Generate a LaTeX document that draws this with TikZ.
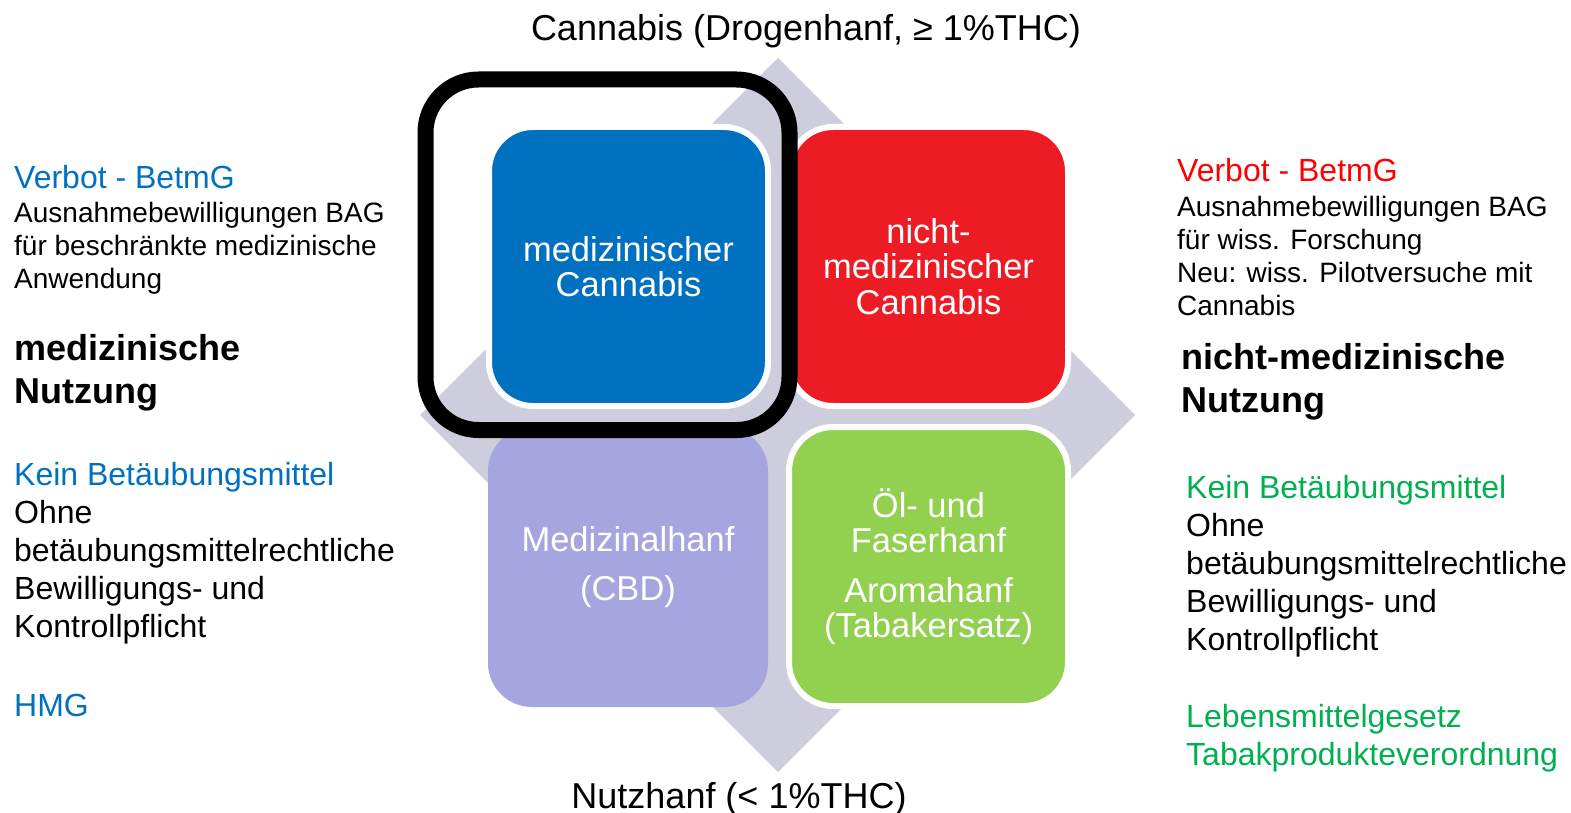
\documentclass[tikz,border=0pt]{standalone}
\usepackage{fontspec}
\setmainfont{Liberation Sans}
\usepackage{tikz}
\usetikzlibrary{positioning}
\definecolor{medblue}{HTML}{0070C0}
\definecolor{recred}{HTML}{ED1C24}
\definecolor{cbdlilac}{HTML}{A5A5DF}
\definecolor{hempgreen}{HTML}{92D050}
\definecolor{diamondgray}{HTML}{CDCDDD}
\definecolor{txtblue}{HTML}{0070C0}
\definecolor{txtred}{HTML}{FF0000}
\definecolor{txtgreen}{HTML}{00B050}

\begin{document}
\begin{tikzpicture}[
    x=1pt, y=-1pt,
    quad/.style={rectangle, rounded corners=44pt, draw=white, line width=6pt, minimum width=279pt, minimum height=279pt, text=white, align=center, inner sep=0pt, font=\fontsize{34.5}{35.5}\selectfont},
    note/.style={anchor=base west, align=left, inner sep=0pt},
    small/.style={note, font=\fontsize{28}{33}\selectfont},
    body/.style={note, font=\fontsize{32}{38}\selectfont},
    usage/.style={note, font=\fontsize{36}{43}\selectfont\bfseries},
    axis/.style={anchor=base, inner sep=0pt, font=\fontsize{36}{43}\selectfont}
]
    \useasboundingbox (0,0) rectangle (1571,813);

    % Diamond behind the four fields
    \coordinate (hub) at (778,415);
    \fill[diamondgray] (778,58) -- (1135,415) -- (778,772) -- (420,415) -- cycle;

    % Four fields
    \node[quad, fill=medblue] (medcan) at (628.5,266.5) {medizinischer\\Cannabis};
    \node[quad, fill=recred] (reccan) at (928.5,266.5) {nicht-\\medizinischer\\Cannabis};
    \node[quad, fill=cbdlilac, draw=none, minimum width=280pt, minimum height=280pt] (medhemp) at (628,567) {Medizinalhanf\\[14pt](CBD)};
    \node[quad, fill=hempgreen] (fibre) at (928.5,566.5) {Öl- und\\Faserhanf\\[14pt]Aromahanf\\(Tabakersatz)};

    % Frame on the medical field
    \node[draw, line width=16pt, rounded corners=53pt, minimum width=364pt, minimum height=350.5pt] (focus) at (607.5,254.75) {};

    % Axis labels
    \node[axis] (thchigh) at (806,41) {Cannabis (Drogenhanf, ≥ 1\%THC)};
    \node[axis] (thclow) at (739,808) {Nutzhanf (< 1\%THC)};

    % Left side (anchored at the last line)
    \node[body, text=txtblue] (lverbot) at (14,189) {Verbot - BetmG};
    \node[small] (lbag) at (14,288) {Ausnahmebewilligungen BAG\\für beschränkte medizinische\\Anwendung};
    \node[usage] (lusage) at (14,403) {medizinische\\Nutzung};
    \node[body] (lfree) at (14,637) {\textcolor{txtblue}{Kein Betäubungsmittel}\\Ohne\\betäubungsmittelrechtliche\\Bewilligungs- und\\Kontrollpflicht};
    \node[body, text=txtblue] (lhmg) at (14,716) {HMG};

    % Right side (anchored at the last line)
    \node[body, text=txtred] (rverbot) at (1177,182) {Verbot - BetmG};
    \node[small] (rbag) at (1177,315) {Ausnahmebewilligungen BAG\\für wiss. Forschung\\Neu: wiss. Pilotversuche mit\\Cannabis};
    \node[usage] (rusage) at (1181,412) {nicht-medizinische\\Nutzung};
    \node[body] (rfree) at (1186,650) {\textcolor{txtgreen}{Kein Betäubungsmittel}\\Ohne\\betäubungsmittelrechtliche\\Bewilligungs- und\\Kontrollpflicht};
    \node[body, text=txtgreen] (rlaw) at (1186,765) {Lebensmittelgesetz\\Tabakprodukteverordnung};
\end{tikzpicture}
\end{document}
